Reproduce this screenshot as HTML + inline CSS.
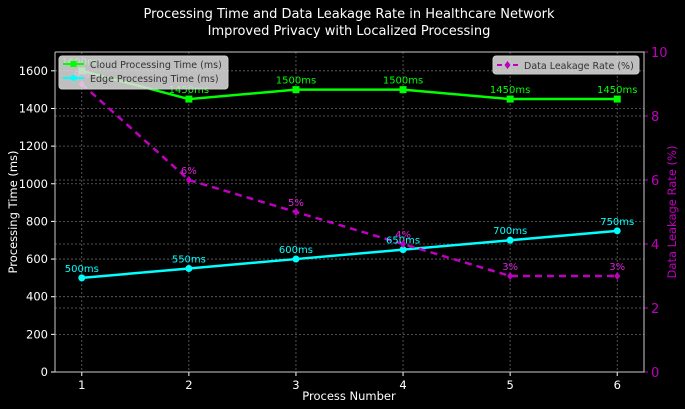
<!DOCTYPE html>
<html><head><meta charset="utf-8"><style>
body{margin:0;background:#000;}
svg{display:block;font-family:"DejaVu Sans","Liberation Sans",sans-serif;}
</style></head><body>
<svg id="chart" width="685" height="409" viewBox="0 0 685 409">
<rect width="685" height="409" fill="#000"/>
<text x="349" y="18" fill="#fff" font-size="13" text-anchor="middle">Processing Time and Data Leakage Rate in Healthcare Network</text>
<text x="349" y="35" fill="#fff" font-size="13" text-anchor="middle">Improved Privacy with Localized Processing</text>
<g id="grid"></g>
<g id="axes"></g>
<g id="series"></g>
<text x="0" y="0" transform="translate(17,212) rotate(-90)" fill="#fff" font-size="11.5" text-anchor="middle">Processing Time (ms)</text>
<text x="0" y="0" transform="translate(676,212) rotate(-90)" fill="#bf00bf" font-size="11.5" text-anchor="middle">Data Leakage Rate (%)</text>
<text x="349" y="400" fill="#fff" font-size="11.5" text-anchor="middle">Process Number</text>
<g>
<rect x="59" y="56" width="169" height="33" rx="3" fill="#e0e0e0" fill-opacity="0.85" stroke="#ccc"/>
<line x1="63" y1="64" x2="84" y2="64" stroke="#00ff00" stroke-width="2"/><rect x="70.5" y="61" width="6" height="6" fill="#00ff00"/>
<text x="90" y="68" font-size="9.5" fill="#333">Cloud Processing Time (ms)</text>
<line x1="63" y1="78" x2="84" y2="78" stroke="#00ffff" stroke-width="2"/><circle cx="73.5" cy="78" r="3" fill="#00ffff"/>
<text x="90" y="82" font-size="9.5" fill="#333">Edge Processing Time (ms)</text>
</g>
<g>
<rect x="493" y="56" width="146" height="18" rx="3" fill="#e0e0e0" fill-opacity="0.85" stroke="#ccc"/>
<line x1="497" y1="65" x2="518" y2="65" stroke="#bf00bf" stroke-width="2" stroke-dasharray="5,3"/><path d="M507.5 61 L510.5 65 L507.5 69 L504.5 65Z" fill="#bf00bf"/>
<text x="524" y="69" font-size="9.5" fill="#333">Data Leakage Rate (%)</text>
</g>
</svg>
<script>
const processes=[1,2,3,4,5,6];
const cloudTimes=[1600,1450,1500,1500,1450,1450];
const edgeTimes=[500,550,600,650,700,750];
const leakageRates=[9,6,5,4,3,3];
const leftTicks=[0,200,400,600,800,1000,1200,1400,1600];
const rightTicks=[0,2,4,6,8,10];

const NS='http://www.w3.org/2000/svg';
const L=55,R=644,T=52,B=372;
const x=v=>L+(v-0.75)/5.5*(R-L);
const yL=v=>B-v/1700*(B-T);
const yR=v=>B-v/10*(B-T);
function el(tag,attrs,parent,text){const e=document.createElementNS(NS,tag);for(const k in attrs)e.setAttribute(k,attrs[k]);if(text!==undefined)e.textContent=text;document.getElementById(parent).appendChild(e);return e;}

leftTicks.forEach(t=>{
 const g=el('line',{x1:L,x2:R,y1:yL(t),y2:yL(t),stroke:'#666','stroke-width':0.8,'stroke-dasharray':'2,2'},'grid');
 
 
 el('line',{x1:L-4,x2:L,y1:yL(t),y2:yL(t),stroke:'#fff'},'axes');
 const lb=el('text',{x:L-7,y:yL(t)+4,fill:'#fff','font-size':11.5,'text-anchor':'end'},'axes',t);
 
 
});
rightTicks.forEach(t=>{
 const g=el('line',{x1:L,x2:R,y1:yR(t),y2:yR(t),stroke:'#666','stroke-width':0.8,'stroke-dasharray':'2,2'},'grid');
 
 
 el('line',{x1:R,x2:R+4,y1:yR(t),y2:yR(t),stroke:'#bf00bf'},'axes');
 const lb=el('text',{x:R+7,y:yR(t)+5,fill:'#bf00bf','font-size':13},'axes',t);
 
 
});
processes.forEach(p=>{
 const g=el('line',{x1:x(p),x2:x(p),y1:T,y2:B,stroke:'#666','stroke-width':0.8,'stroke-dasharray':'2,2'},'grid');
 
 
 el('line',{x1:x(p),x2:x(p),y1:B,y2:B+4,stroke:'#fff'},'axes');
 const lb=el('text',{x:x(p),y:B+17,fill:'#fff','font-size':11.5,'text-anchor':'middle'},'axes',p);
 
 
});
const sp=el('path',{d:`M${L} ${T}V${B}H${R}V${T}H${L}`,fill:'none',stroke:'#ccc','stroke-width':1},'axes');



function line(vals,yf,color,dash,name){
 const p=el('polyline',{points:vals.map((v,i)=>x(processes[i])+','+yf(v)).join(' '),fill:'none',stroke:color,'stroke-width':2.5,'stroke-dasharray':dash||''},'series');
 
 
}
line(cloudTimes,yL,'#00ff00','', 'cloud-line');
line(edgeTimes,yL,'#00ffff','', 'edge-line');
line(leakageRates,yR,'#bf00bf','7,5','leakage-line');

cloudTimes.forEach((v,i)=>{
 const m=el('rect',{x:x(processes[i])-3.5,y:yL(v)-3.5,width:7,height:7,fill:'#00ff00'},'series');
 
 
 const t=el('text',{x:x(processes[i]),y:yL(v)-6,fill:'#00ff00','font-size':10,'text-anchor':'middle'},'series',v+'ms');
 
 
});
edgeTimes.forEach((v,i)=>{
 const m=el('circle',{cx:x(processes[i]),cy:yL(v),r:3.5,fill:'#00ffff'},'series');
 
 
 const t=el('text',{x:x(processes[i]),y:yL(v)-6,fill:'#00ffff','font-size':10,'text-anchor':'middle'},'series',v+'ms');
 
 
});
leakageRates.forEach((v,i)=>{
 const cx=x(processes[i]),cy=yR(v);
 const m=el('path',{d:`M${cx} ${cy-4}L${cx+3} ${cy}L${cx} ${cy+4}L${cx-3} ${cy}Z`,fill:'#bf00bf'},'series');
 
 
 const t=el('text',{x:cx,y:cy-6,fill:'#e020e0','font-size':10,'text-anchor':'middle'},'series',v+'%');
 
 
});
</script>
</body></html>
